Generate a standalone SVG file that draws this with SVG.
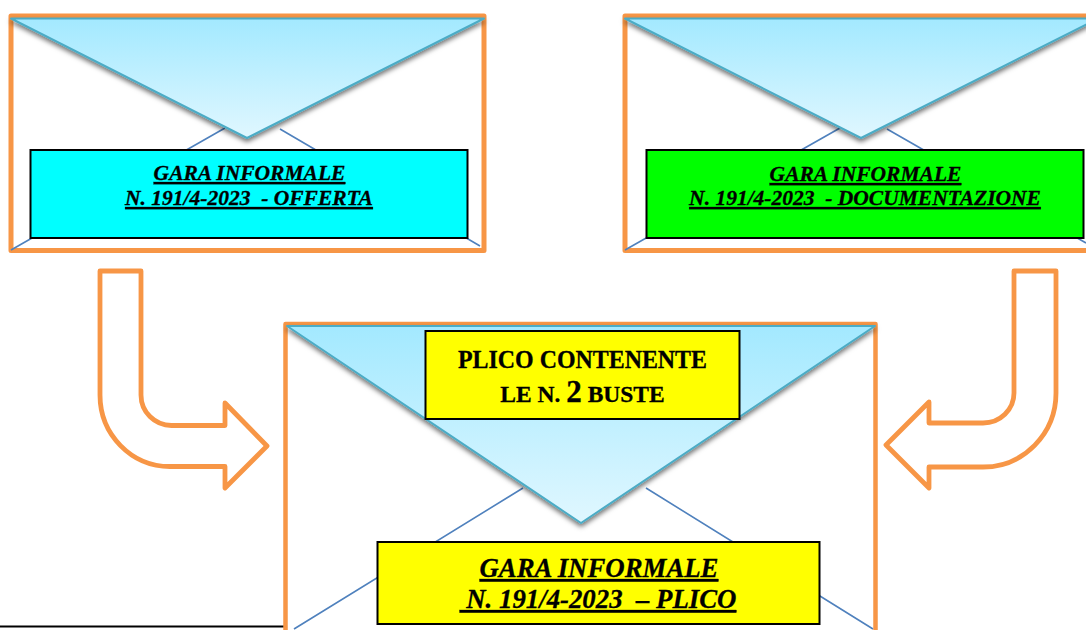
<svg xmlns="http://www.w3.org/2000/svg" width="1086" height="630" viewBox="0 0 1086 630">
<style>
.env{fill:#fff;stroke:#F79646;stroke-linejoin:round}
.flap{fill:url(#flapFill);stroke:#4BACC6;stroke-width:2;stroke-linejoin:round;filter:url(#shadow)}
.crease{fill:none;stroke:#4F81BD;stroke-width:1.6}
.label{stroke:#000;stroke-width:2}
.arrow{fill:#fff;stroke:#F79646;stroke-width:4.8;stroke-linejoin:round}
text{font-family:"Liberation Serif","Times New Roman",serif;font-weight:bold;fill:#000;stroke:#000;stroke-width:.3;text-anchor:middle;white-space:pre}
.sm{font-size:21.5px;font-style:italic;text-decoration:underline}
.lg{font-size:26.8px;font-style:italic;text-decoration:underline}
.pl{font-size:24.5px}
.ln{font-size:23.5px}
</style>
<defs>
<linearGradient id="flapFill" x1="0" y1="0" x2="0" y2="1">
<stop offset="0" stop-color="#A3E9FF"/><stop offset="1" stop-color="#E0F7FF"/>
</linearGradient>
<filter id="shadow" x="-5%" y="-5%" width="110%" height="115%">
<feDropShadow dx="0" dy="3" stdDeviation="2.5" flood-color="#000" flood-opacity="0.55"/>
</filter>
</defs>
<rect width="1086" height="630" fill="#fff"/>
<line x1="0" y1="626.5" x2="284" y2="626.5" stroke="#000" stroke-width="2"/>

<g id="envelope-offerta">
<rect class="env" x="11" y="16" width="473" height="234.500" stroke-width="5"/>
<path class="crease" d="M11 250L225 128M280 129L480 246"/>
<polygon class="flap" points="11,18.500 484,18.500 247,138"/>
<rect class="label" x="30.500" y="150" width="437" height="88" fill="#00FFFF"/>
<text class="sm" x="249.500" y="180">GARA INFORMALE</text>
<text class="sm" x="249" y="205">N. 191/4-2023  - OFFERTA</text>
</g>

<g id="envelope-documentazione">
<rect class="env" x="625" y="16" width="480" height="234.500" stroke-width="5"/>
<path class="crease" d="M625 250L840 128M887 129L1086 243"/>
<polygon class="flap" points="625,18.500 1098,18.500 861,138"/>
<rect class="label" x="646.500" y="150" width="437" height="88" fill="#00FF00"/>
<text class="sm" x="865.500" y="181">GARA INFORMALE</text>
<text class="sm" x="865" y="205">N. 191/4-2023  - DOCUMENTAZIONE</text>
</g>

<g id="envelope-plico">
<rect class="env" x="285.500" y="324" width="590" height="330" stroke-width="4.500"/>
<path class="crease" d="M294 629L523 488M646 488L873 629"/>
<polygon class="flap" points="287,326 875,326 581,523"/>
<rect class="label" x="425.500" y="331" width="314" height="88" fill="#FFFF00"/>
<text class="pl" x="582.500" y="368" textLength="249" lengthAdjust="spacingAndGlyphs">PLICO CONTENENTE</text>
<text class="ln" x="582.500" y="402">LE N. <tspan font-size="31">2</tspan> BUSTE</text>
<rect class="label" x="377.500" y="542" width="442" height="82" fill="#FFFF00"/>
<text class="lg" x="599" y="577">GARA INFORMALE</text>
<text class="lg" x="598" y="608"> N. 191/4-2023  – PLICO</text>
</g>

<g id="connectors">
<path class="arrow" d="M100 271H141V395A30.500 30.500 0 0 0 171.500 425.500H225V403L267 446L225 488V466.500H170A70 71.500 0 0 1 100 395Z"/>
<path class="arrow" d="M1056 271H1014V393A31 30 0 0 1 983 423H929V402L886 445L929 488V467H983A73 74 0 0 0 1056 393Z"/>
</g>
</svg>
